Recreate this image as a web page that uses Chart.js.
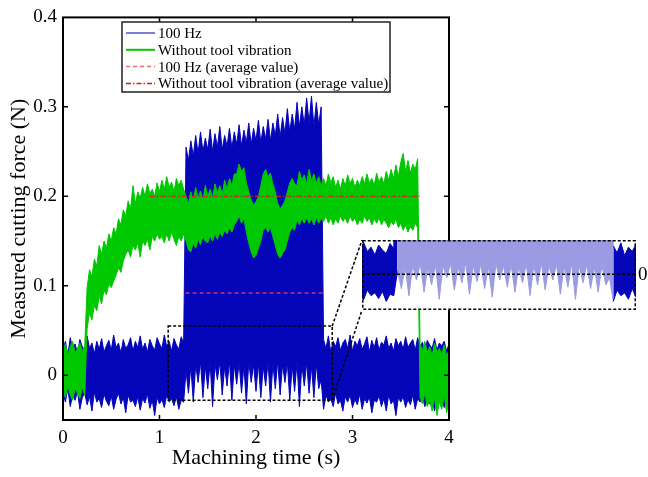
<!DOCTYPE html>
<html>
<head>
<meta charset="utf-8">
<script src="https://cdn.jsdelivr.net/npm/chart.js@4.4.0/dist/chart.umd.min.js"></script>
<style>
  body { margin: 0; background: #fff; }
  #wrap { position: relative; width: 648px; height: 477px; }
  #inset { position: absolute; left: 362px; top: 240px; }
</style>
</head>
<body>
<div id="wrap">
  <canvas id="chart" width="648" height="477"></canvas>
  <canvas id="inset" width="274" height="70"></canvas>
</div>
<script>
// samples every 0.025 s, forces in mN
const timeStep = 0.025;

const greenHigh = [
  28, 35, 22, 32, 38, 25, 30, 36, 27, 33,
  98, 118, 110, 130, 122, 145, 135, 150, 142, 158,
  150, 165, 158, 175, 168, 185, 178, 195, 186, 212,
  192, 205, 198, 210, 200, 214, 203, 208, 200, 215,
  205, 218, 208, 222, 210, 216, 205, 220, 212, 218,
  208, 200, 192, 205, 195, 210, 198, 206, 196, 212,
  200, 208, 198, 214, 204, 212, 202, 218, 208, 220,
  212, 225, 225, 236, 228, 232, 215, 205, 196, 190,
  194, 200, 212, 225, 230, 222, 226, 214, 205, 192,
  186, 190, 195, 205, 215, 220, 214, 212, 228, 218,
  224, 214, 230, 218, 225, 215, 222, 212, 220, 212,
  225, 215, 222, 210, 218, 208, 220, 212, 224, 214,
  220, 210, 218, 212, 222, 214, 225, 215, 220, 212,
  226, 216, 222, 214, 228, 218, 230, 220, 235, 222,
  238, 248, 228, 240, 226, 236, 230, 242, 35, 28,
  38, 25, 32, 22, 36, 26, 30, 24, 34, 22,
  28
];
const greenLow = [
  -18, -25, -12, -22, -28, -15, -20, -26, -14, -22,
  52, 70, 62, 78, 72, 88, 80, 95, 90, 102,
  98, 105, 112, 120, 115, 128, 135, 140, 132, 145,
  140, 148, 132, 150, 145, 152, 140, 155, 150, 158,
  152, 155, 148, 158, 150, 160, 152, 145, 155, 150,
  158, 150, 140, 138, 148, 142, 152, 146, 155, 150,
  148, 156, 150, 158, 152, 160, 155, 162, 158, 165,
  160, 168, 172, 178, 170, 175, 160, 148, 138, 131,
  134, 142, 150, 162, 165, 160, 165, 155, 145, 135,
  131, 136, 140, 150, 160, 165, 162, 174, 168, 175,
  170, 176, 170, 175, 168, 176, 170, 175, 172, 178,
  170, 176, 168, 175, 170, 178, 172, 176, 170, 178,
  172, 176, 168, 174, 170, 178, 172, 176, 168, 175,
  170, 176, 168, 174, 170, 165, 172, 168, 175, 165,
  170, 162, 168, 160, 166, 162, 170, 165, -25, -32,
  -20, -35, -28, -40, -25, -45, -30, -38, -22, -42,
  -30
];
const blueHigh = [
  28, 38, 22, 42, 30, 35, 25, 40, 32, 27,
  44, 30, 36, 24, 38, 29, 41, 26, 33, 39,
  28, 45, 31, 36, 25, 40, 30, 34, 42, 27,
  38, 31, 44, 29, 36, 26, 40, 33, 28, 42,
  35, 30, 45, 32, 38, 27, 41, 34, 29, 43,
  36, 255, 240, 262, 245, 268, 248, 272, 250, 265,
  252, 275, 250, 270, 255, 278, 252, 268, 256, 276,
  254, 272, 258, 280, 256, 274, 260, 282, 258, 276,
  262, 285, 260, 278, 264, 286, 262, 282, 268, 292,
  266, 288, 270, 298, 272, 292, 275, 305, 278, 300,
  280, 310, 282, 312, 278, 305, 280, 300, 40, 30,
  44, 26, 38, 32, 42, 28, 36, 40, 30, 45,
  27, 38, 33, 41, 29, 35, 43, 26, 39, 31,
  42, 28, 37, 34, 44, 30, 36, 27, 41, 33,
  38, 29, 43, 31, 36, 40, 28, 42, 32, 37,
  26, 39, 34, 30, 41, 28, 36, 33, 38, 27,
  35
];
const blueLow = [
  -20, -30, -15, -35, -22, -28, -18, -38, -25, -20,
  -33, -24, -40, -19, -30, -26, -36, -21, -29, -34,
  -23, -38, -27, -20, -32, -25, -42, -22, -30, -28,
  -35, -24, -39, -26, -31, -21, -37, -28, -45, -25,
  -32, -27, -36, -22, -30, -26, -34, -24, -38, -28,
  -30, 5, -20, 10, -30, 12, -8, 15, -25, 10,
  -15, 14, -35, 12, -5, 15, -22, 10, -12, 16,
  -28, 12, -10, 14, -20, 11, -32, 15, -8, 12,
  -18, 14, -25, 10, -12, 15, -30, 13, -15, 16,
  -22, 12, -8, 14, -28, 11, -18, 15, -35, 12,
  -12, 14, -20, 10, -25, 13, -15, -5, -38, -22,
  -30, -26, -35, -20, -32, -28, -40, -24, -30, -22,
  -36, -27, -33, -21, -38, -26, -31, -24, -42, -28,
  -30, -23, -35, -26, -40, -22, -32, -28, -45, -25,
  -30, -24, -36, -27, -33, -22, -38, -26, -30, -24,
  -35, -28, -32, -25, -40, -27, -30, -23, -36, -26,
  -31
];

// average values (N) and the time spans they cover (s)
const avg100Time = [1.27, 2.7];
const avg100 = [0.092, 0.092];
const avgNoVibTime = [0.9, 3.7];
const avgNoVib = [0.2, 0.2];

// dashed rectangle in the main plot, and the ranges the inset shows
const zoomTime = [1.09, 2.79];
const zoomForce = [-0.028, 0.055];
const insetTime = [1.04, 2.85];
const insetForce = [-0.05, 0.048];

const xTicks = [0, 1, 2, 3, 4];
const yTicks = [0, 0.1, 0.2, 0.3, 0.4];
const legendLabels = ['100 Hz', 'Without tool vibration', '100 Hz (average value)', 'Without tool vibration (average value)'];

const BLUE = 'rgb(5,5,185)';
const LIGHT_BLUE = 'rgb(155,155,228)';
const GREEN = 'rgb(0,200,0)';
const FONT = 'Liberation Serif';

const time = greenHigh.map((_, i) => i * timeStep);
const toPoints = vals => vals.map((v, i) => ({ x: time[i], y: v / 1000 }));
const pair = (ts, vs) => ts.map((t, i) => ({ x: t, y: vs[i] }));

const insetBox = { left: 362, top: 240, width: 274, height: 70 };

const legendStyles = [
  { color: 'rgb(80,80,205)', dash: [], width: 1.5 },
  { color: GREEN, dash: [], width: 2 },
  { color: 'rgb(240,110,110)', dash: [4, 3], width: 1.5 },
  { color: 'rgb(200,30,30)', dash: [5, 2, 1.5, 2], width: 1.5 }
];

const framePlugin = {
  id: 'frame',
  afterDatasetsDraw(chart) {
    const { ctx, chartArea: a, scales: { x, y } } = chart;
    ctx.save();
    // zoom rectangle and connectors
    ctx.strokeStyle = '#000';
    ctx.lineWidth = 1.5;
    ctx.setLineDash([3, 2]);
    const bx0 = x.getPixelForValue(zoomTime[0]), bx1 = x.getPixelForValue(zoomTime[1]);
    const byTop = y.getPixelForValue(zoomForce[1]), byBot = y.getPixelForValue(zoomForce[0]);
    ctx.strokeRect(bx0, byTop, bx1 - bx0, byBot - byTop);
    ctx.beginPath();
    ctx.moveTo(bx1, byTop); ctx.lineTo(insetBox.left, insetBox.top);
    ctx.moveTo(bx1, byBot); ctx.lineTo(insetBox.left, insetBox.top + insetBox.height);
    ctx.stroke();
    // axes box
    ctx.setLineDash([]);
    ctx.lineWidth = 2;
    ctx.strokeRect(a.left, a.top, a.right - a.left, a.bottom - a.top);
    // inward ticks
    ctx.lineWidth = 1.5;
    ctx.beginPath();
    xTicks.slice(1, -1).forEach(t => {
      const px = x.getPixelForValue(t);
      ctx.moveTo(px, a.bottom); ctx.lineTo(px, a.bottom - 5);
      ctx.moveTo(px, a.top); ctx.lineTo(px, a.top + 5);
    });
    yTicks.slice(0, -1).forEach(v => {
      const py = y.getPixelForValue(v);
      ctx.moveTo(a.left, py); ctx.lineTo(a.left + 5, py);
      ctx.moveTo(a.right, py); ctx.lineTo(a.right - 5, py);
    });
    ctx.stroke();
    ctx.restore();
  },
  afterDraw(chart) {
    const { ctx } = chart;
    ctx.save();
    // legend
    ctx.fillStyle = '#fff';
    ctx.fillRect(122, 22, 268, 70);
    ctx.strokeStyle = '#222';
    ctx.lineWidth = 1.5;
    ctx.strokeRect(122, 22, 268, 70);
    ctx.font = '15px "' + FONT + '"';
    ctx.textBaseline = 'middle';
    legendLabels.forEach((label, i) => {
      const st = legendStyles[i];
      const ly = 33 + i * 16.8;
      ctx.strokeStyle = st.color;
      ctx.lineWidth = st.width;
      ctx.setLineDash(st.dash);
      ctx.beginPath();
      ctx.moveTo(126, ly); ctx.lineTo(155, ly);
      ctx.stroke();
      ctx.fillStyle = '#000';
      ctx.fillText(label, 158, ly + 1);
    });
    // zero label of the inset
    ctx.font = '19px "' + FONT + '"';
    ctx.fillText('0', 638, 275);
    ctx.restore();
  }
};

const band = (color, order) => ({ borderColor: color, backgroundColor: color, borderWidth: 1, pointRadius: 0, order });

new Chart(document.getElementById('chart'), {
  type: 'line',
  data: {
    datasets: [
      { label: legendLabels[2], data: pair(avg100Time, avg100), borderColor: 'rgb(205,50,110)', borderDash: [4, 3], borderWidth: 1.5, pointRadius: 0, fill: false, order: 0 },
      { label: legendLabels[3], data: pair(avgNoVibTime, avgNoVib), borderColor: 'rgb(200,40,40)', borderDash: [5, 2, 1.5, 2], borderWidth: 1.3, pointRadius: 0, fill: false, order: 0 },
      { label: legendLabels[1], data: toPoints(greenHigh), fill: '+1', ...band(GREEN, 1) },
      { label: 'green low', data: toPoints(greenLow), fill: false, ...band(GREEN, 1) },
      { label: legendLabels[0], data: toPoints(blueHigh), fill: '+1', ...band(BLUE, 2) },
      { label: 'blue low', data: toPoints(blueLow), fill: false, ...band(BLUE, 2) }
    ]
  },
  options: {
    responsive: false,
    devicePixelRatio: 1,
    animation: false,
    events: [],
    layout: { padding: { top: 14, right: 199, left: 0, bottom: 0 } },
    plugins: { legend: { display: false }, tooltip: { enabled: false } },
    scales: {
      x: {
        type: 'linear', min: 0, max: 4,
        afterBuildTicks: s => { s.ticks = xTicks.map(v => ({ value: v })); },
        afterFit: s => { s.height = 57; },
        grid: { display: false, drawTicks: false },
        border: { display: false },
        ticks: { font: { family: FONT, size: 19 }, color: '#000', padding: 7, callback: v => String(v) },
        title: { display: true, text: 'Machining time (s)', font: { family: FONT, size: 22 }, color: '#000', padding: { top: 0, bottom: 6 } }
      },
      y: {
        type: 'linear', min: -0.05, max: 0.4,
        afterBuildTicks: s => { s.ticks = yTicks.map(v => ({ value: v })); },
        afterFit: s => { s.width = 63; },
        grid: { display: false, drawTicks: false },
        border: { display: false },
        ticks: { font: { family: FONT, size: 19 }, color: '#000', padding: 6, callback: v => v === 0 ? '0' : v.toFixed(1) },
        title: { display: true, text: 'Measured cutting force (N)', font: { family: FONT, size: 22 }, color: '#000', padding: { top: 6, bottom: 0 } }
      }
    }
  },
  plugins: [framePlugin]
});

// inset: the 100 Hz signal inside the dashed rectangle, magnified
const inHigh = c => c.p0.parsed.x >= 1.26 && c.p0.parsed.x < 2.69;
const insetColor = c => inHigh(c) ? LIGHT_BLUE : BLUE;

const insetPlugin = {
  id: 'insetFrame',
  beforeDraw(chart) {
    const { ctx, width, height } = chart;
    ctx.save();
    ctx.fillStyle = '#fff';
    ctx.fillRect(0, 0, width, height);
    ctx.restore();
  },
  afterDraw(chart) {
    const { ctx, width, height, scales: { y } } = chart;
    ctx.save();
    ctx.strokeStyle = '#000';
    ctx.lineWidth = 1.5;
    ctx.setLineDash([3, 2]);
    const zy = y.getPixelForValue(0);
    ctx.beginPath();
    ctx.moveTo(0, zy); ctx.lineTo(width, zy);
    ctx.stroke();
    ctx.strokeRect(0.75, 0.75, width - 1.5, height - 1.5);
    ctx.restore();
  }
};

new Chart(document.getElementById('inset'), {
  type: 'line',
  data: {
    datasets: [
      { data: toPoints(blueHigh), fill: '+1', borderColor: BLUE, backgroundColor: BLUE, borderWidth: 1, pointRadius: 0,
        segment: { borderColor: insetColor, backgroundColor: insetColor } },
      { data: toPoints(blueLow), fill: false, borderColor: BLUE, borderWidth: 1, pointRadius: 0,
        segment: { borderColor: insetColor } }
    ]
  },
  options: {
    responsive: false,
    devicePixelRatio: 1,
    animation: false,
    events: [],
    layout: { padding: 0 },
    plugins: { legend: { display: false }, tooltip: { enabled: false } },
    scales: {
      x: { type: 'linear', min: insetTime[0], max: insetTime[1], display: false },
      y: { type: 'linear', min: insetForce[0], max: insetForce[1], display: false }
    }
  },
  plugins: [insetPlugin]
});
</script>
</body>
</html>
